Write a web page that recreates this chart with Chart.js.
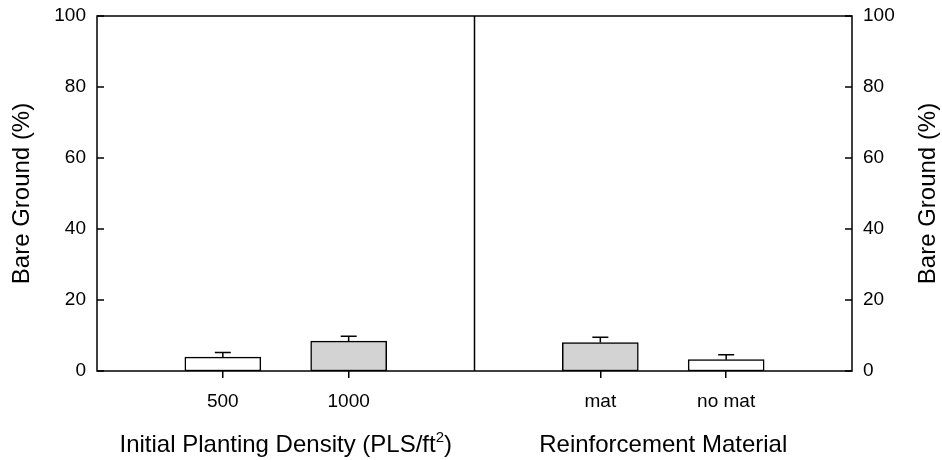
<!DOCTYPE html>
<html>
<head>
<meta charset="utf-8">
<script src="https://cdn.jsdelivr.net/npm/chart.js@4.4.1/dist/chart.umd.min.js"></script>
<style>
  html, body { margin: 0; padding: 0; background: #fff; }
  canvas { display: block; }
</style>
</head>
<body>
<canvas id="grafik" width="942" height="460"></canvas>
<script>
// posisi kategori pada sumbu x (0..3 panel kiri, 3..6 panel kanan)
const posisiX = [1, 2, 4, 5];
const labelX = ["500", "1000", "mat", "no mat"];
const bareGround = [3.9, 8.4, 8.0, 3.2];
const galat = [1.3, 1.4, 1.5, 1.4];
const tickY = [0, 20, 40, 60, 80, 100];

const FONT = "'Liberation Sans', Arial, sans-serif";

// Error bar (hanya ke atas)
const errorBar = {
    id: "errorBar",
    afterDatasetsDraw(chart) {
        const ctx = chart.ctx;
        const y = chart.scales.y;
        const meta = chart.getDatasetMeta(0);
        ctx.save();
        ctx.strokeStyle = "#000";
        ctx.lineWidth = 1.5;
        meta.data.forEach((bar, i) => {
            const atas = y.getPixelForValue(bareGround[i] + galat[i]);
            ctx.beginPath();
            ctx.moveTo(bar.x, bar.y);
            ctx.lineTo(bar.x, atas);
            ctx.moveTo(bar.x - 8, atas);
            ctx.lineTo(bar.x + 8, atas);
            ctx.stroke();
        });
        ctx.restore();
    }
};

// Bingkai, garis pemisah panel, tick y ke dalam, dan judul sumbu
const bingkai = {
    id: "bingkai",
    afterDatasetsDraw(chart) {
        const ctx = chart.ctx;
        const area = chart.chartArea;
        const x = chart.scales.x;
        const y = chart.scales.y;
        ctx.save();
        ctx.strokeStyle = "#000";
        ctx.lineWidth = 1.5;
        ctx.strokeRect(area.left, area.top, area.right - area.left, area.bottom - area.top);
        const pisah = x.getPixelForValue(3);
        ctx.beginPath();
        ctx.moveTo(pisah, area.top);
        ctx.lineTo(pisah, area.bottom);
        tickY.forEach(v => {
            const py = y.getPixelForValue(v);
            ctx.moveTo(area.left, py);
            ctx.lineTo(area.left + 7, py);
            ctx.moveTo(area.right, py);
            ctx.lineTo(area.right - 7, py);
        });
        ctx.stroke();
        ctx.restore();
    },
    afterDraw(chart) {
        const ctx = chart.ctx;
        const area = chart.chartArea;
        const x = chart.scales.x;
        const tengahY = (area.top + area.bottom) / 2;
        ctx.save();
        ctx.fillStyle = "#000";
        ctx.font = "24px " + FONT;
        ctx.textAlign = "center";
        ctx.textBaseline = "middle";

        [22, 928].forEach(px => {
            ctx.save();
            ctx.translate(px, tengahY);
            ctx.rotate(-Math.PI / 2);
            ctx.fillText("Bare Ground (%)", 0, 0);
            ctx.restore();
        });

        ctx.textBaseline = "alphabetic";
        const dasar = 452;
        ctx.fillText("Reinforcement Material", x.getPixelForValue(4.5), dasar);

        // judul kiri dengan pangkat 2
        const a = "Initial Planting Density (PLS/ft";
        const b = ")";
        ctx.font = "24px " + FONT;
        const wa = ctx.measureText(a).width;
        const wb = ctx.measureText(b).width;
        ctx.font = "15px " + FONT;
        const ws = ctx.measureText("2").width;
        const total = wa + ws + wb;
        let mulai = x.getPixelForValue(1.5) - total / 2;
        ctx.textAlign = "left";
        ctx.font = "24px " + FONT;
        ctx.fillText(a, mulai, dasar);
        ctx.font = "15px " + FONT;
        ctx.fillText("2", mulai + wa, dasar - 10);
        ctx.font = "24px " + FONT;
        ctx.fillText(b, mulai + wa + ws, dasar);
        ctx.restore();
    }
};

const ctx = document.getElementById("grafik").getContext("2d");

new Chart(ctx, {
    type: "bar",
    data: {
        datasets: [{
            data: posisiX.map((px, i) => ({ x: px, y: bareGround[i] })),
            backgroundColor: ["#ffffff", "#d3d3d3", "#d3d3d3", "#ffffff"],
            borderColor: "#000",
            borderWidth: 1.5,
            borderSkipped: false,
            barThickness: 76
        }]
    },
    options: {
        responsive: false,
        animation: false,
        devicePixelRatio: 1,
        layout: { padding: { top: 16, left: 0, right: 0, bottom: 0 } },
        plugins: {
            legend: { display: false },
            tooltip: { enabled: false }
        },
        scales: {
            x: {
                type: "linear",
                min: 0,
                max: 6,
                offset: false,
                afterBuildTicks(scale) {
                    scale.ticks = posisiX.map(v => ({ value: v }));
                },
                afterFit(scale) {
                    scale.height = 89;
                    scale.paddingLeft = 0;
                    scale.paddingRight = 0;
                },
                ticks: {
                    autoSkip: false,
                    maxRotation: 0,
                    padding: 12,
                    color: "#000",
                    font: { family: FONT, size: 19 },
                    callback: (value, index) => labelX[index]
                },
                grid: {
                    offset: false,
                    drawOnChartArea: false,
                    drawTicks: true,
                    tickLength: 7,
                    color: "#000",
                    lineWidth: 1.5
                },
                border: { display: false }
            },
            y: {
                position: "left",
                min: 0,
                max: 100,
                afterBuildTicks(scale) {
                    scale.ticks = tickY.map(v => ({ value: v }));
                },
                afterFit(scale) {
                    scale.width = 97;
                    scale.paddingTop = 0;
                    scale.paddingBottom = 0;
                },
                ticks: {
                    padding: 11,
                    color: "#000",
                    font: { family: FONT, size: 19 }
                },
                grid: { display: false, drawTicks: false },
                border: { display: false }
            },
            y2: {
                position: "right",
                min: 0,
                max: 100,
                afterBuildTicks(scale) {
                    scale.ticks = tickY.map(v => ({ value: v }));
                },
                afterFit(scale) {
                    scale.width = 90;
                    scale.paddingTop = 0;
                    scale.paddingBottom = 0;
                },
                ticks: {
                    padding: 11,
                    color: "#000",
                    font: { family: FONT, size: 19 }
                },
                grid: { display: false, drawTicks: false },
                border: { display: false }
            }
        }
    },
    plugins: [errorBar, bingkai]
});
</script>
</body>
</html>
